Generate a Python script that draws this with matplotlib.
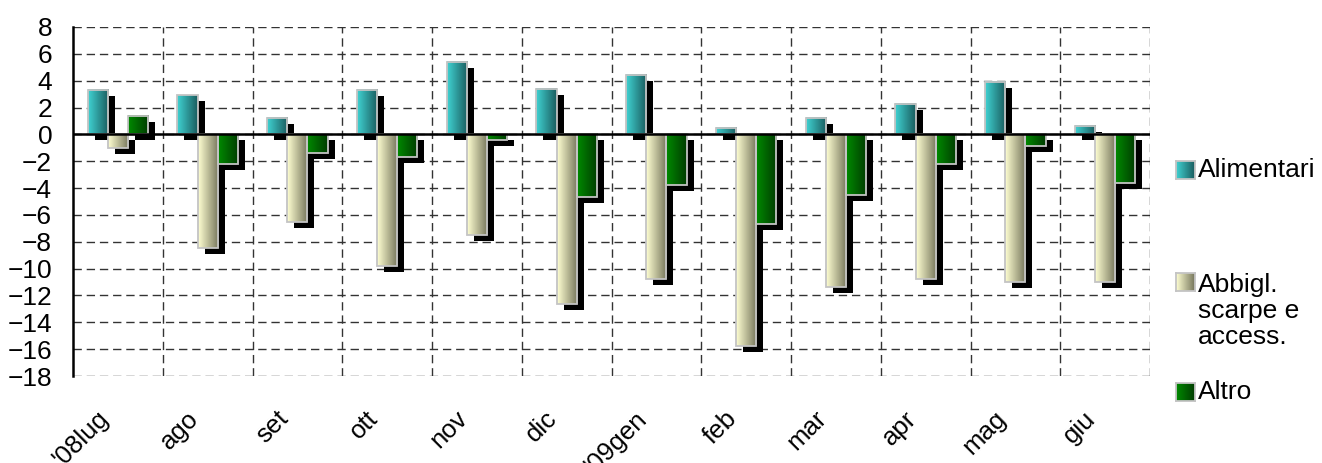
import matplotlib
matplotlib.use('Agg')
import matplotlib.pyplot as plt
import matplotlib.transforms as mtransforms
from matplotlib.colors import LinearSegmentedColormap
from matplotlib.patches import Rectangle
import numpy as np

plt.rcParams['font.family'] = ['Liberation Sans', 'DejaVu Sans']

months = ["'08lug", 'ago', 'set', 'ott', 'nov', 'dic', "'09gen", 'feb', 'mar', 'apr', 'mag', 'giu']
alimentari = [3.3, 2.9, 1.2, 3.3, 5.4, 3.4, 4.4, 0.5, 1.2, 2.3, 3.9, 0.6]
abbigl = [-1.0, -8.5, -6.5, -9.8, -7.5, -12.6, -10.8, -15.8, -11.4, -10.8, -11.0, -11.0]
altro = [1.4, -2.2, -1.4, -1.7, -0.4, -4.7, -3.8, -6.7, -4.5, -2.2, -0.9, -3.6]

labels = ['Alimentari', 'Abbigl.\nscarpe e\naccess.', 'Altro']
grads = [('#40D2D2', '#1A5C5E'), ('#FFFFD2', '#76765C'), ('#008A00', '#003C00')]

fig = plt.figure(figsize=(13.22, 4.63), dpi=100)
ax = fig.add_axes([73 / 1322, 1 - 376 / 463, (1150 - 73) / 1322, (376 - 27) / 463])

x = np.arange(len(months))
w = 0.225
dx = 7 / 89.75   # shadow offset, ~7 px right
dy = 6 / 13.42   # ~6 px down
grad = np.linspace(0, 1, 64).reshape(1, -1)

for i, vals in enumerate([alimentari, abbigl, altro]):
    cmap = LinearSegmentedColormap.from_list('g%d' % i, grads[i])
    for j, v in enumerate(vals):
        x0 = x[j] - 1.5 * w + i * w
        y0 = min(0, v)
        h = abs(v)
        ax.add_patch(Rectangle((x0 + dx, y0 - dy), w, h, facecolor='black', edgecolor='none', zorder=2))
        ax.imshow(grad, cmap=cmap, aspect='auto', extent=[x0, x0 + w, y0, y0 + h], zorder=3, interpolation='bilinear')
        ax.add_patch(Rectangle((x0, y0), w, h, facecolor='none', edgecolor='#C4C4C4', lw=1.3, zorder=4))

ax.axhline(0, color='black', lw=1.8, zorder=5)

ax.set_xlim(-0.5, 11.5)
ax.set_ylim(-18, 8)
ax.set_yticks(np.arange(-18, 9, 2))
ax.set_xticks(x)
ax.set_xticklabels([])
ax.tick_params(axis='x', length=0)
ax.tick_params(axis='y', length=0, pad=15, labelsize=19)

# month labels, rotated like excel
shift = mtransforms.ScaledTranslation(-13 / 100, -39 / 100, fig.dpi_scale_trans)
for xi, m in zip(x, months):
    ax.text(xi, 0, m, transform=ax.get_xaxis_transform() + shift, rotation=45,
            rotation_mode='anchor', ha='right', va='center', fontsize=18.5, clip_on=False)

for yv in np.arange(-18, 9, 2):
    ax.axhline(yv, color='#333333', lw=1, dashes=(6, 3.5), zorder=1)
for xv in np.arange(0.5, 12, 1):
    ax.axvline(xv, color='#333333', lw=1, dashes=(6, 3.5), zorder=1)

for s in ['top', 'right', 'bottom']:
    ax.spines[s].set_visible(False)
ax.spines['left'].set_linewidth(1.8)
ax.spines['left'].set_zorder(6)

# legend, placed by hand like the Excel one
leg_y = [170, 282, 392]
text_y = [170, 311, 392]
for i in range(3):
    cmap = LinearSegmentedColormap.from_list('l%d' % i, grads[i])
    yc = 1 - leg_y[i] / 463
    lax = fig.add_axes([1176 / 1322, yc - 9 / 463, 19 / 1322, 18 / 463])
    lax.imshow(grad, cmap=cmap, aspect='auto', extent=[0, 1, 0, 1])
    lax.set_xticks([])
    lax.set_yticks([])
    for s in lax.spines.values():
        s.set_color('#C4C4C4')
        s.set_linewidth(1.3)
    fig.text(1198 / 1322, 1 - text_y[i] / 463, labels[i], fontsize=19, va='center',
             ha='left', linespacing=1.1)

fig.savefig('out.png', dpi=100)
